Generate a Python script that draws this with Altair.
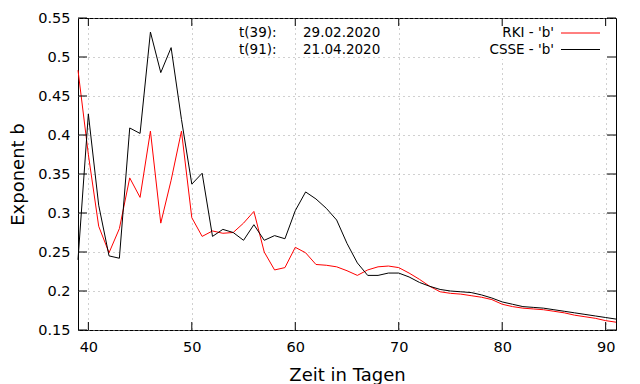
import altair as alt
import pandas as pd

days = list(range(39, 92))
rki = [0.483, 0.375, 0.283, 0.249, 0.280, 0.345, 0.320, 0.405, 0.287, 0.342,
       0.405, 0.294, 0.270, 0.277, 0.274, 0.275, 0.287, 0.302, 0.250, 0.227,
       0.230, 0.256, 0.249, 0.234, 0.233, 0.231, 0.226, 0.220, 0.227, 0.231,
       0.232, 0.230, 0.223, 0.215, 0.206, 0.199, 0.197, 0.196, 0.194, 0.192,
       0.189, 0.183, 0.180, 0.178, 0.177, 0.176, 0.174, 0.172, 0.169, 0.167,
       0.165, 0.162, 0.160]
csse = [0.240, 0.427, 0.310, 0.245, 0.242, 0.409, 0.402, 0.532, 0.480, 0.512,
        0.420, 0.337, 0.351, 0.270, 0.279, 0.275, 0.265, 0.285, 0.265, 0.271,
        0.267, 0.303, 0.327, 0.318, 0.306, 0.291, 0.261, 0.236, 0.220, 0.220,
        0.223, 0.223, 0.218, 0.211, 0.206, 0.202, 0.200, 0.199, 0.198, 0.195,
        0.191, 0.186, 0.183, 0.180, 0.179, 0.178, 0.176, 0.174, 0.172, 0.170,
        0.168, 0.166, 0.164]
series_names = ["RKI - 'b'", "CSSE - 'b'"]
series_colors = ["#ff0000", "#000000"]
x_ticks = [40, 50, 60, 70, 80, 90]
y_ticks = [0.15, 0.2, 0.25, 0.3, 0.35, 0.4, 0.45, 0.5, 0.55]
annot_left = ["t(39):", "t(91):"]
annot_right = ["29.02.2020", "21.04.2020"]

W, H = 538, 312
FONT = "DejaVu Sans"

df_rki = pd.DataFrame({"day": days, "value": rki})
df_csse = pd.DataFrame({"day": days, "value": csse})
df_xt = pd.DataFrame({"day": x_ticks})
df_yt = pd.DataFrame({"value": y_ticks})

xs = alt.Scale(domain=[39, 91], nice=False, zero=False)
ys = alt.Scale(domain=[0.15, 0.55], nice=False, zero=False)

x_axis = alt.Axis(values=x_ticks, title="Zeit in Tagen", labelPadding=10,
                  titlePadding=13, format="d", labelOverlap=False)
y_axis = alt.Axis(values=y_ticks, title="Exponent b", labelPadding=8,
                  titlePadding=10, labelOverlap=False,
                  labelExpr="round(datum.value*100) % 10 == 0 ? format(datum.value, '.1f') : format(datum.value, '.2f')")


def X(field):
    return alt.X(field, scale=xs, axis=x_axis)


def Y(field):
    return alt.Y(field, scale=ys, axis=y_axis)


line_rki = alt.Chart(df_rki).mark_line(color=series_colors[0], strokeWidth=1).encode(
    x=X("day:Q"), y=Y("value:Q"))
line_csse = alt.Chart(df_csse).mark_line(color=series_colors[1], strokeWidth=1).encode(
    x=X("day:Q"), y=Y("value:Q"))

# inward ticks on all four sides
tick_b = alt.Chart(df_xt).mark_rule(color="black", strokeWidth=1).encode(
    x=X("day:Q"), y=alt.value(H), y2=alt.value(H - 8))
tick_t = alt.Chart(df_xt).mark_rule(color="black", strokeWidth=1).encode(
    x=X("day:Q"), y=alt.value(0), y2=alt.value(8))
tick_l = alt.Chart(df_yt).mark_rule(color="black", strokeWidth=1).encode(
    y=Y("value:Q"), x=alt.value(0), x2=alt.value(9))
tick_r = alt.Chart(df_yt).mark_rule(color="black", strokeWidth=1).encode(
    y=Y("value:Q"), x=alt.value(W - 9), x2=alt.value(W))

# key box (white background hiding grid)
key_box = alt.Chart(pd.DataFrame({"a": [0]})).mark_rect(color="white").encode(
    x=alt.value(402), x2=alt.value(W - 1), y=alt.value(1), y2=alt.value(41))

key_layers = []
for i, (nm, col) in enumerate(zip(series_names, series_colors)):
    yy = 15 + i * 16.5
    d = pd.DataFrame({"name": [nm]})
    key_layers.append(alt.Chart(d).mark_text(
        align="right", baseline="middle", font=FONT, fontSize=13.5, color="black"
    ).encode(text="name:N", x=alt.value(476), y=alt.value(yy)))
    key_layers.append(alt.Chart(d).mark_rule(color=col, strokeWidth=1).encode(
        x=alt.value(483), x2=alt.value(522), y=alt.value(yy)))

annot_layers = []
for i, (a, b) in enumerate(zip(annot_left, annot_right)):
    yy = 15 + i * 17
    annot_layers.append(alt.Chart(pd.DataFrame({"t": [a]})).mark_text(
        align="left", baseline="middle", font=FONT, fontSize=13.5, color="black"
    ).encode(text="t:N", x=alt.value(161), y=alt.value(yy)))
    annot_layers.append(alt.Chart(pd.DataFrame({"t": [b]})).mark_text(
        align="left", baseline="middle", font=FONT, fontSize=13.5, color="black"
    ).encode(text="t:N", x=alt.value(225), y=alt.value(yy)))

chart = alt.layer(
    line_rki, line_csse, key_box, *key_layers, *annot_layers,
    tick_b, tick_t, tick_l, tick_r,
).properties(
    width=W, height=H,
    autosize=alt.AutoSizeParams(type="none"),
    padding={"left": 70, "top": 10, "right": 16, "bottom": 54},
    background="white",
).configure_view(
    stroke="black", strokeWidth=1
).configure_axis(
    grid=True, gridColor="#a0a0a0", gridDash=[1, 4], gridWidth=1,
    ticks=False, domain=False, labelOverlap=False,
    labelFont=FONT, labelFontSize=14.5, labelColor="black",
    titleFont=FONT, titleFontSize=18, titleFontWeight="normal", titleColor="black",
)

chart.save("out.html", embed_options={"renderer": "svg", "actions": False})
